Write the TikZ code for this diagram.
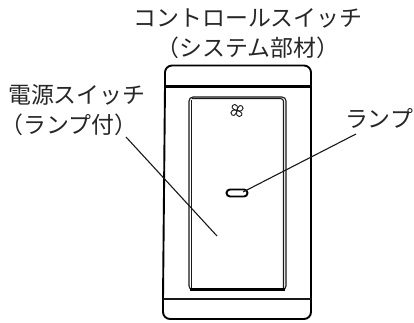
\documentclass[tikz,border=0pt]{standalone}
\usepackage{fontspec}
\setmainfont{Noto Sans CJK JP}
\tikzset{
  lbl/.style={inner sep=0pt,font=\fontsize{22.9}{27}\selectfont,text=black!85},
  thick line/.style={draw=black,line width=1.9pt},
  band line/.style={draw=black,line width=2.3pt},
  thin line/.style={draw=black!90,line width=1.1pt},
  blade/.style={draw=black!90,line width=0.9pt,fill=white},
}
\begin{document}
\begin{tikzpicture}[x=1pt,y=-1pt]
\useasboundingbox (0,0) rectangle (414,322);
\fill[white] (0,0) rectangle (414,322);
\node[lbl] (t1) at (248,18.5) {コントロールスイッチ};
\node[lbl] (t2) at (248,48) {（システム部材）};
\node[lbl,anchor=west] (t3) at (8,94.5) {電源スイッチ};
\node[lbl,anchor=west] (t4) at (0,124.5) {（ランプ付）};
\node[lbl] (t5) at (379,118) {ランプ};
% body
\draw[thick line,rounded corners=7pt] (165,86) -- (165,65.5) -- (311,65.5) -- (311,319) -- (163,319) -- (163,299) -- cycle;
\draw[band line] (165,86.5) -- (311,86.5);
\draw[thin line] (163,299) -- (311,299);
% panel
\draw[thin line,rounded corners=4pt] (189,97) rectangle (286,290);
\draw[thin line,rounded corners=3pt] (191.5,98.5) -- (283.5,98.5) -- (283.5,288);
\draw[thin line] (191.5,100) -- (191.5,288);
\draw[band line,rounded corners=3pt] (190,289.5) -- (285,289.5);
% fan
\foreach \a in {20,110,200,290}
  \draw[blade,rotate around={\a:(237,110.5)}] (237,110.5) .. controls (240,105.5) and (244,106) .. (243.5,110.5) .. controls (243,113) and (240,112.5) .. (237,110.5);
% lamp
\draw[thick line,rounded corners=3.5pt] (226.5,189.5) rectangle (247.5,196.5);
\coordinate (a1) at (126,137);
\coordinate (a2) at (217,236);
\coordinate (b1) at (243,192);
\coordinate (b2) at (356,134);
\draw[thin line] (a1) -- (a2);
\draw[thin line] (b1) -- (b2);
\end{tikzpicture}
\end{document}
